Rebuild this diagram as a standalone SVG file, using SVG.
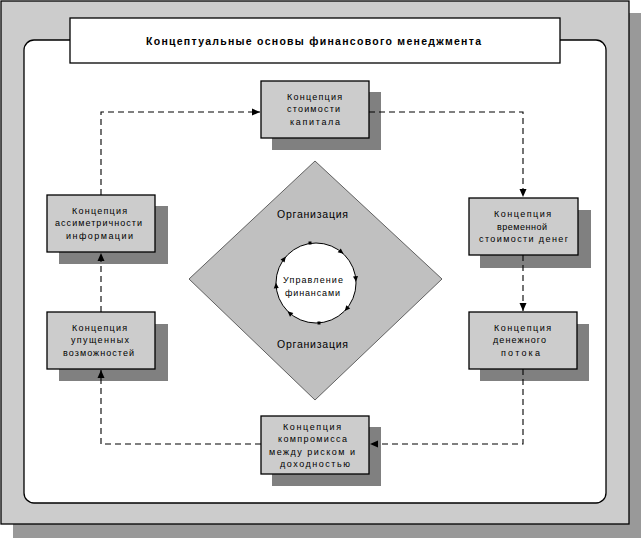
<svg xmlns="http://www.w3.org/2000/svg" width="644" height="541" viewBox="0 0 644 541">
<defs>
<style>
.box{fill:#cccccc;stroke:#000;stroke-width:1.3}
.shd{fill:#808080}
.t{font-family:"Liberation Sans",Arial,sans-serif;font-size:9px;fill:#000;text-anchor:middle}
.org{font-family:"Liberation Sans",Arial,sans-serif;font-size:10.5px;fill:#000;text-anchor:middle}
.ttl{font-family:"Liberation Sans",Arial,sans-serif;font-size:10.5px;font-weight:bold;fill:#000;text-anchor:middle}
.con{fill:none;stroke:#000;stroke-width:1.1;stroke-dasharray:6,4}
</style>
<marker id="ah" markerUnits="userSpaceOnUse" markerWidth="10" markerHeight="10" viewBox="0 0 10 10" refX="9" refY="5" orient="auto">
<path d="M1,1.5 L9,5 L1,8.5 Z" fill="#000"/>
</marker>
<polygon id="tri" points="3,0 -2.5,-2.5 -2.5,2.5" fill="#000"/>
</defs>

<g id="frame">
<rect x="13" y="13" width="628" height="525" fill="#999999"/>
<rect x="1" y="1" width="628" height="523" fill="#cccccc" stroke="#000" stroke-width="1.3"/>
<rect x="24" y="40" width="582" height="463" rx="10" ry="10" fill="#fff" stroke="#000" stroke-width="1.3"/>
</g>

<g id="title">
<rect x="70" y="18" width="490" height="45" fill="#fff" stroke="#000" stroke-width="1.3"/>
<text class="ttl" x="313.5" y="44.5" textLength="335" lengthAdjust="spacing">Концептуальные основы финансового менеджмента</text>
</g>

<g id="organization">
<polygon points="315,161 442,279 315,400 189,279" fill="#c0c0c0" stroke="#404040" stroke-width="0.8"/>
<text class="org" x="312.5" y="218" textLength="71" lengthAdjust="spacing">Организация</text>
<text class="org" x="312.5" y="348" textLength="71" lengthAdjust="spacing">Организация</text>
</g>

<g id="finance">
<circle cx="316" cy="283" r="40" fill="#fff" stroke="#000" stroke-width="1"/>
<use href="#tri" transform="rotate(-6 316 283) translate(356 283) rotate(90)"/>
<use href="#tri" transform="rotate(-51 316 283) translate(356 283) rotate(90)"/>
<use href="#tri" transform="rotate(40 316 283) translate(356 283) rotate(90)"/>
<use href="#tri" transform="rotate(131 316 283) translate(356 283) rotate(90)"/>
<use href="#tri" transform="rotate(176 316 283) translate(356 283) rotate(90)"/>
<use href="#tri" transform="rotate(217 316 283) translate(356 283) rotate(90)"/>
<rect x="308.5" y="241.5" width="3" height="3" fill="#000"/>
<rect x="317.5" y="321.5" width="3" height="3" fill="#000"/>
<text class="t" x="313" y="283" textLength="60" lengthAdjust="spacing">Управление</text>
<text class="t" x="312.5" y="296" textLength="55" lengthAdjust="spacing">финансами</text>
</g>

<g id="n-capital">
<rect class="shd" x="272" y="92" width="109" height="58"/>
<rect class="box" x="261" y="81" width="108" height="57"/>
<text class="t" x="314.5" y="99.5" textLength="55" lengthAdjust="spacing">Концепция</text>
<text class="t" x="313.5" y="112" textLength="53" lengthAdjust="spacing">стоимости</text>
<text class="t" x="315" y="124.5" textLength="50" lengthAdjust="spacing">капитала</text>
</g>

<g id="n-time">
<rect class="shd" x="480" y="210" width="111" height="58"/>
<rect class="box" x="469" y="198" width="109" height="57"/>
<text class="t" x="522.5" y="217" textLength="57" lengthAdjust="spacing">Концепция</text>
<text class="t" x="522" y="229.5" textLength="50" lengthAdjust="spacing">временной</text>
<text class="t" x="523.5" y="242" textLength="89" lengthAdjust="spacing">стоимости  денег</text>
</g>

<g id="n-cashflow">
<rect class="shd" x="480" y="324" width="109" height="57"/>
<rect class="box" x="469" y="312" width="108" height="57"/>
<text class="t" x="522.5" y="330.5" textLength="57" lengthAdjust="spacing">Концепция</text>
<text class="t" x="519.5" y="343" textLength="53" lengthAdjust="spacing">денежного</text>
<text class="t" x="520.5" y="355.5" textLength="39" lengthAdjust="spacing">потока</text>
</g>

<g id="n-tradeoff">
<rect class="shd" x="272" y="427" width="109" height="59"/>
<rect class="box" x="261" y="416" width="108" height="58"/>
<text class="t" x="312" y="429.5" textLength="58" lengthAdjust="spacing">Концепция</text>
<text class="t" x="312.5" y="442" textLength="69" lengthAdjust="spacing">компромисса</text>
<text class="t" x="312" y="454.5" textLength="86" lengthAdjust="spacing">между риском и</text>
<text class="t" x="315" y="467" textLength="70" lengthAdjust="spacing">доходностью</text>
</g>

<g id="n-opportunity">
<rect class="shd" x="59" y="324" width="109" height="57"/>
<rect class="box" x="47" y="312" width="108" height="57"/>
<text class="t" x="99.5" y="330.5" textLength="55" lengthAdjust="spacing">Концепция</text>
<text class="t" x="100" y="343" textLength="58" lengthAdjust="spacing">упущенных</text>
<text class="t" x="98.5" y="355.5" textLength="71" lengthAdjust="spacing">возможностей</text>
</g>

<g id="n-asymmetry">
<rect class="shd" x="59" y="206" width="109" height="58"/>
<rect class="box" x="47" y="195" width="108" height="57"/>
<text class="t" x="99.5" y="213.5" textLength="55" lengthAdjust="spacing">Концепция</text>
<text class="t" x="98.5" y="226" textLength="87" lengthAdjust="spacing">ассиметричности</text>
<text class="t" x="99.5" y="238.5" textLength="67" lengthAdjust="spacing">информации</text>
</g>

<g id="connectors">
<polyline class="con" points="101,195 101,112 260,112" marker-end="url(#ah)"/>
<polyline class="con" points="369,112 523,112 523,197" marker-end="url(#ah)"/>
<polyline class="con" points="523,255 523,311" marker-end="url(#ah)"/>
<polyline class="con" points="523,369 523,444 370,444" marker-end="url(#ah)"/>
<polyline class="con" points="261,444 101,444 101,370" marker-end="url(#ah)"/>
<polyline class="con" points="101,312 101,253" marker-end="url(#ah)"/>
</g>
</svg>
